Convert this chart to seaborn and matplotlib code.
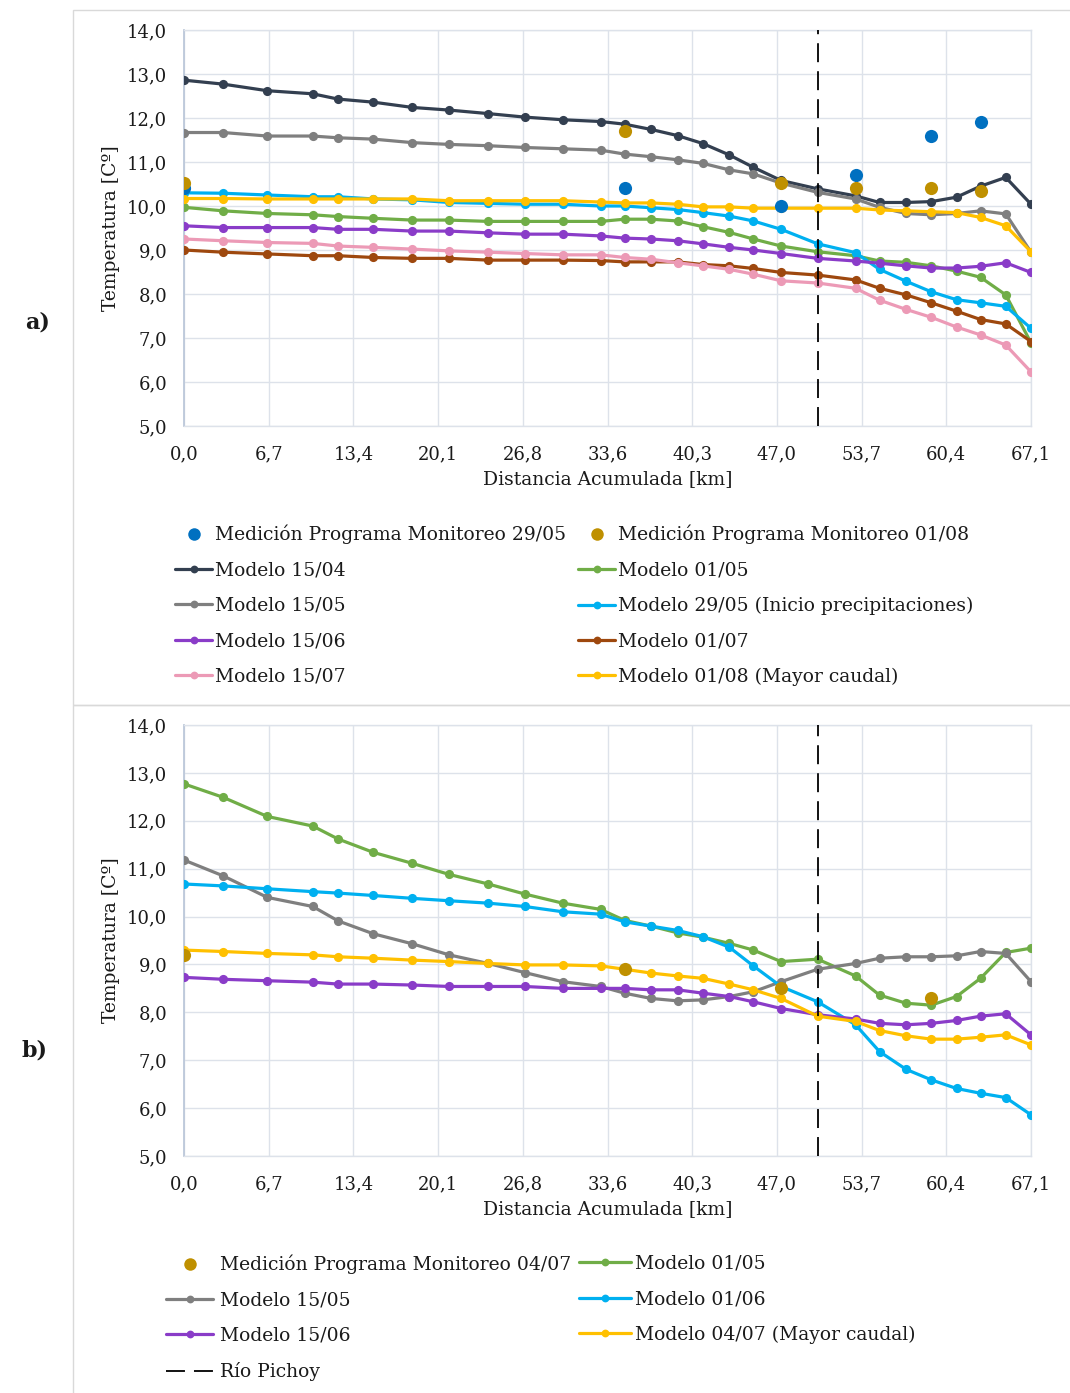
import matplotlib
matplotlib.use("Agg")
import matplotlib.pyplot as plt
from matplotlib.patches import Rectangle
from matplotlib.lines import Line2D
import seaborn as sns

# ---------------------------------------------------------------------------
# Data
# ---------------------------------------------------------------------------
# Cumulative distance along the river for every model node [km]
DIST_KM = [0.0, 3.1, 6.6, 10.2, 12.2, 15.0, 18.1, 21.0, 24.1, 27.0, 30.0, 33.0,
           34.9, 37.0, 39.1, 41.1, 43.2, 45.1, 47.3, 50.2, 53.2, 55.1, 57.2,
           59.2, 61.2, 63.1, 65.1, 67.1]

X_TICKS = [0.0, 6.71, 13.42, 20.13, 26.84, 33.55, 40.26, 46.97, 53.68, 60.39, 67.1]
X_TICK_LABELS = ["0,0", "6,7", "13,4", "20,1", "26,8", "33,6", "40,3", "47,0",
                 "53,7", "60,4", "67,1"]
Y_TICKS = [5, 6, 7, 8, 9, 10, 11, 12, 13, 14]
Y_TICK_LABELS = ["5,0", "6,0", "7,0", "8,0", "9,0", "10,0", "11,0", "12,0",
                 "13,0", "14,0"]

RIO_PICHOY_KM = 50.2

# --- Panel a) -------------------------------------------------------------
A_MED_X = [0.0, 34.9, 47.3, 53.2, 59.2, 63.1]
A_MED_2905 = [10.40, 10.40, 10.00, 10.70, 11.60, 11.90]
A_MED_0108 = [10.52, 11.70, 10.52, 10.40, 10.40, 10.33]

A_M_1504 = [12.86, 12.77, 12.62, 12.55, 12.43, 12.36, 12.24, 12.18, 12.10, 12.02,
            11.96, 11.92, 11.86, 11.74, 11.60, 11.42, 11.16, 10.88, 10.58, 10.39,
            10.23, 10.08, 10.08, 10.10, 10.20, 10.45, 10.65, 10.04]
A_M_0105 = [9.97, 9.89, 9.83, 9.80, 9.76, 9.72, 9.68, 9.68, 9.65, 9.65,
            9.65, 9.65, 9.70, 9.70, 9.66, 9.53, 9.40, 9.25, 9.09, 8.96,
            8.87, 8.75, 8.72, 8.64, 8.52, 8.38, 7.98, 6.89]
A_M_1505 = [11.67, 11.67, 11.59, 11.59, 11.55, 11.52, 11.44, 11.40, 11.37, 11.33,
            11.30, 11.27, 11.18, 11.12, 11.05, 10.97, 10.82, 10.73, 10.52, 10.31,
            10.16, 9.97, 9.83, 9.80, 9.83, 9.89, 9.82, 8.95]
A_M_2905 = [10.30, 10.29, 10.25, 10.21, 10.21, 10.16, 10.14, 10.08, 10.06, 10.04,
            10.04, 10.00, 10.00, 9.96, 9.92, 9.85, 9.77, 9.66, 9.47, 9.14,
            8.94, 8.56, 8.29, 8.05, 7.87, 7.80, 7.72, 7.22]
A_M_1506 = [9.55, 9.51, 9.51, 9.51, 9.47, 9.47, 9.43, 9.43, 9.39, 9.36,
            9.36, 9.32, 9.27, 9.25, 9.21, 9.14, 9.06, 9.00, 8.92, 8.81,
            8.75, 8.70, 8.64, 8.59, 8.59, 8.63, 8.71, 8.49]
A_M_0107 = [9.00, 8.95, 8.91, 8.87, 8.87, 8.83, 8.81, 8.81, 8.77, 8.77,
            8.77, 8.76, 8.73, 8.73, 8.73, 8.67, 8.64, 8.58, 8.49, 8.43,
            8.32, 8.13, 7.98, 7.80, 7.61, 7.42, 7.32, 6.92]
A_M_1507 = [9.25, 9.21, 9.17, 9.15, 9.09, 9.06, 9.02, 8.98, 8.95, 8.92,
            8.89, 8.89, 8.83, 8.79, 8.71, 8.64, 8.56, 8.45, 8.30, 8.25,
            8.13, 7.86, 7.65, 7.47, 7.25, 7.07, 6.84, 6.23]
A_M_0108 = [10.17, 10.17, 10.16, 10.16, 10.16, 10.16, 10.16, 10.12, 10.12, 10.12,
            10.12, 10.09, 10.07, 10.07, 10.04, 9.98, 9.98, 9.95, 9.95, 9.95,
            9.95, 9.91, 9.89, 9.87, 9.85, 9.74, 9.55, 8.96]

# --- Panel b) -------------------------------------------------------------
B_MED_X = [0.0, 34.9, 47.3, 59.2]
B_MED_0407 = [9.20, 8.90, 8.50, 8.29]

B_M_0105 = [12.77, 12.49, 12.09, 11.89, 11.62, 11.34, 11.11, 10.88, 10.68, 10.47,
            10.28, 10.15, 9.92, 9.80, 9.66, 9.57, 9.44, 9.30, 9.06, 9.11,
            8.76, 8.36, 8.19, 8.15, 8.33, 8.71, 9.25, 9.34]
B_M_1505 = [11.18, 10.85, 10.40, 10.21, 9.91, 9.64, 9.43, 9.20, 9.02, 8.83,
            8.64, 8.54, 8.40, 8.29, 8.24, 8.26, 8.33, 8.43, 8.64, 8.90,
            9.02, 9.13, 9.16, 9.16, 9.18, 9.27, 9.23, 8.64]
B_M_0106 = [10.68, 10.64, 10.58, 10.52, 10.49, 10.44, 10.38, 10.33, 10.28, 10.21,
            10.10, 10.05, 9.89, 9.80, 9.71, 9.58, 9.36, 8.97, 8.54, 8.22,
            7.74, 7.18, 6.81, 6.59, 6.41, 6.31, 6.22, 5.86]
B_M_1506 = [8.73, 8.69, 8.66, 8.63, 8.59, 8.59, 8.57, 8.54, 8.54, 8.54,
            8.50, 8.50, 8.50, 8.47, 8.47, 8.40, 8.33, 8.22, 8.08, 7.95,
            7.86, 7.77, 7.74, 7.77, 7.83, 7.92, 7.97, 7.53]
B_M_0407 = [9.30, 9.27, 9.23, 9.20, 9.16, 9.13, 9.09, 9.06, 9.02, 8.99,
            8.99, 8.97, 8.90, 8.82, 8.76, 8.71, 8.59, 8.47, 8.29, 7.92,
            7.81, 7.62, 7.51, 7.44, 7.44, 7.48, 7.53, 7.32]

# ---------------------------------------------------------------------------
# Style
# ---------------------------------------------------------------------------
C_DARK = "#333f50"
C_GRAY = "#7f7f7f"
C_CYAN = "#00b0f0"
C_GREEN = "#70ad47"
C_PURPLE = "#8a3cc8"
C_BROWN = "#9e480e"
C_PINK = "#ec9ab6"
C_YELLOW = "#ffc000"
C_MED_BLUE = "#0070c0"
C_MED_GOLD = "#bf9000"

GRID_C = "#dde2ea"
TEXT_C = "#1a1a1a"

sns.set_style("white")
plt.rcParams["font.family"] = ["DejaVu Serif"]
plt.rcParams["text.color"] = TEXT_C
plt.rcParams["axes.labelcolor"] = TEXT_C
plt.rcParams["xtick.color"] = TEXT_C
plt.rcParams["ytick.color"] = TEXT_C

FS = 13.5
LW = 2.3
MS = 6.6
MED_S = 90

W, H = 1070, 1393
fig = plt.figure(figsize=(W / 100, H / 100), dpi=100)


def fx(px):
    return px / W


def fy(py):
    return 1 - py / H


# panel frames
fig.patches.append(Rectangle((fx(73), fy(705)), fx(1200), fy(10) - fy(705),
                             transform=fig.transFigure, fill=False,
                             edgecolor="#d9d9d9", lw=1.0))
fig.patches.append(Rectangle((fx(73), fy(1500)), fx(1200), fy(705) - fy(1500),
                             transform=fig.transFigure, fill=False,
                             edgecolor="#d9d9d9", lw=1.0))

ax_a = fig.add_axes([fx(184), fy(426), fx(1031) - fx(184), fy(30) - fy(426)])
ax_b = fig.add_axes([fx(184), fy(1156), fx(1031) - fx(184), fy(725) - fy(1156)])


def style_axes(ax, xlabel_y):
    ax.set_xlim(0, 67.1)
    ax.set_ylim(5, 14)
    ax.set_xticks(X_TICKS)
    ax.set_xticklabels(X_TICK_LABELS)
    ax.set_yticks(Y_TICKS)
    ax.set_yticklabels(Y_TICK_LABELS)
    ax.grid(True, color=GRID_C, lw=1.0)
    ax.set_axisbelow(True)
    for s in ax.spines.values():
        s.set_color(GRID_C)
        s.set_linewidth(1.0)
    ax.spines["left"].set_color("#bcc8da")
    ax.spines["left"].set_linewidth(1.3)
    ax.tick_params(axis="both", length=0, labelsize=FS - 0.5)
    ax.tick_params(axis="x", pad=14)
    ax.tick_params(axis="y", pad=12)
    ax.set_xlabel("Distancia Acumulada [km]", fontsize=FS)
    ax.set_ylabel("Temperatura [Cº]", fontsize=FS)
    ax.xaxis.set_label_coords(0.5, xlabel_y)
    ax.yaxis.set_label_coords(-0.076, 0.5)
    ax.axvline(RIO_PICHOY_KM, color="black", lw=1.3, dashes=(10.5, 5.0), zorder=4)


def draw_model(ax, values, color):
    sns.lineplot(x=DIST_KM, y=values, ax=ax, color=color, lw=LW, marker="o",
                 markersize=MS, markeredgewidth=0, legend=False, zorder=3)


def draw_measure(ax, xs, values, color):
    sns.scatterplot(x=xs, y=values, ax=ax, color=color, s=MED_S, linewidth=0,
                    legend=False, zorder=6)


def line_handle(color):
    return Line2D([], [], color=color, lw=LW, marker="o", markersize=MS - 1,
                  markeredgewidth=0)


def dot_handle(color):
    return Line2D([], [], color=color, lw=0, marker="o", markersize=9,
                  markeredgewidth=0)


def add_legend(handles, labels, x_px, top_px, hlen_px, pad_px):
    fs_px = FS * 100 / 72
    fig.legend(handles, labels, loc="upper left",
               bbox_to_anchor=(fx(x_px), fy(top_px)),
               bbox_transform=fig.transFigure, frameon=False, fontsize=FS,
               borderpad=0, borderaxespad=0, handlelength=hlen_px / fs_px,
               handletextpad=pad_px / fs_px, labelspacing=0.92)


# ---------------------------------------------------------------------------
# Panel a)
# ---------------------------------------------------------------------------
style_axes(ax_a, -0.112)
draw_model(ax_a, A_M_1504, C_DARK)
draw_model(ax_a, A_M_0105, C_GREEN)
draw_model(ax_a, A_M_1505, C_GRAY)
draw_model(ax_a, A_M_2905, C_CYAN)
draw_model(ax_a, A_M_1506, C_PURPLE)
draw_model(ax_a, A_M_0107, C_BROWN)
draw_model(ax_a, A_M_1507, C_PINK)
draw_model(ax_a, A_M_0108, C_YELLOW)
draw_measure(ax_a, A_MED_X, A_MED_2905, C_MED_BLUE)
draw_measure(ax_a, A_MED_X, A_MED_0108, C_MED_GOLD)

add_legend([dot_handle(C_MED_BLUE), line_handle(C_DARK), line_handle(C_GRAY),
            line_handle(C_PURPLE), line_handle(C_PINK)],
           ["Medición Programa Monitoreo 29/05", "Modelo 15/04", "Modelo 15/05",
            "Modelo 15/06", "Modelo 15/07"],
           175, 525, 37, 3)
add_legend([dot_handle(C_MED_GOLD), line_handle(C_GREEN), line_handle(C_CYAN),
            line_handle(C_BROWN), line_handle(C_YELLOW)],
           ["Medición Programa Monitoreo 01/08", "Modelo 01/05",
            "Modelo 29/05 (Inicio precipitaciones)", "Modelo 01/07",
            "Modelo 01/08 (Mayor caudal)"],
           578, 525, 37, 3)

# ---------------------------------------------------------------------------
# Panel b)
# ---------------------------------------------------------------------------
style_axes(ax_b, -0.102)
draw_model(ax_b, B_M_0105, C_GREEN)
draw_model(ax_b, B_M_1505, C_GRAY)
draw_model(ax_b, B_M_0106, C_CYAN)
draw_model(ax_b, B_M_1506, C_PURPLE)
draw_model(ax_b, B_M_0407, C_YELLOW)
draw_measure(ax_b, B_MED_X, B_MED_0407, C_MED_GOLD)

rio_handle = Line2D([], [], color="black", lw=1.3, dashes=(10.5, 5.0))
add_legend([dot_handle(C_MED_GOLD), line_handle(C_GRAY), line_handle(C_PURPLE),
            rio_handle],
           ["Medición Programa Monitoreo 04/07", "Modelo 15/05", "Modelo 15/06",
            "Río Pichoy"],
           166, 1255, 47, 7)
add_legend([line_handle(C_GREEN), line_handle(C_CYAN), line_handle(C_YELLOW)],
           ["Modelo 01/05", "Modelo 01/06", "Modelo 04/07 (Mayor caudal)"],
           579, 1255, 52, 4)

fig.text(fx(25), fy(323), "a)", fontsize=16, fontweight="bold", ha="left",
         va="center")
fig.text(fx(22), fy(1050), "b)", fontsize=16, fontweight="bold", ha="left",
         va="center")

fig.savefig("out.png", dpi=100)
